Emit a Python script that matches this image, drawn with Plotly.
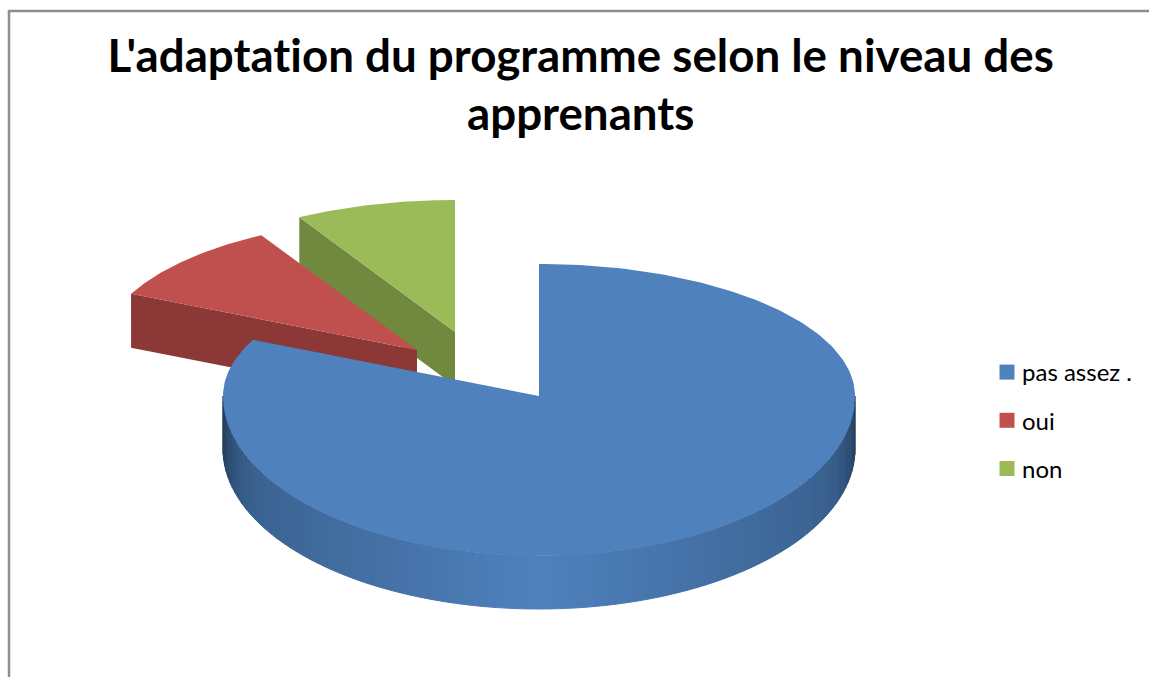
import math
import plotly.graph_objects as go

# Data
labels = ["pas assez .", "oui", "non"]
values = [82, 9.8, 8.2]
top_colors = ["#4F81BD", "#C0504D", "#9BBB59"]
wall_colors = ["#3A5F8B", "#8C3836", "#71893F"]
title_lines = ["L'adaptation du programme selon le niveau des", "apprenants"]

# Geometry of the projected pie (pixels of the plot area)
W, H = 1149, 677
RX, RY_BACK, RY_FRONT, DEPTH = 316, 132, 160, 53
APEX = [(539, 396), (417, 350), (455, 332)]


def project(apex, theta):
    s, c = math.sin(theta), math.cos(theta)
    ry = RY_BACK if c > 0 else RY_FRONT
    return apex[0] + RX * s, apex[1] - ry * c


def lerp_color(a, b, t):
    ca = [int(a[i:i + 2], 16) for i in (1, 3, 5)]
    cb = [int(b[i:i + 2], 16) for i in (1, 3, 5)]
    return "rgb({},{},{})".format(*[round(p + (q - p) * t) for p, q in zip(ca, cb)])


def poly(xs, ys, color, line=0):
    return go.Scatter(
        x=xs, y=ys, mode="lines", fill="toself", fillcolor=color,
        line=dict(color=color, width=line), hoverinfo="skip", showlegend=False,
    )


total = sum(values)
angles = [0]
for v in values:
    angles.append(angles[-1] + v / total * 2 * math.pi)

fig = go.Figure()


def arc(apex, a0, a1, n=80):
    return [project(apex, a0 + (a1 - a0) * i / n) for i in range(n + 1)]


# Back slices first: non, then oui
for idx in (2, 1):
    apex = APEX[idx]
    a0, a1 = angles[idx], angles[idx + 1]
    # the radial wall on the side facing the viewer
    ox, oy = project(apex, a0)
    fig.add_trace(poly([ox, apex[0], apex[0], ox, ox],
                       [oy, apex[1], apex[1] + DEPTH + 1, oy + DEPTH + 1, oy],
                       wall_colors[idx]))
    pts = arc(apex, a0, a1)
    fig.add_trace(poly([apex[0]] + [p[0] for p in pts] + [apex[0]],
                       [apex[1]] + [p[1] for p in pts] + [apex[1]],
                       top_colors[idx]))

# Large slice: shaded outer wall, then the top face
apex = APEX[0]
a0, a1 = angles[0], angles[1]
N = 90
wall_start, wall_end = math.pi / 2, 3 * math.pi / 2
for i in range(N):
    t0 = wall_start + (wall_end - wall_start) * i / N
    t1 = wall_start + (wall_end - wall_start) * (i + 1) / N
    p0, p1 = project(apex, t0), project(apex, t1)
    shade = abs(math.sin((t0 + t1) / 2))
    color = lerp_color("#4F81BD", "#24405F", 0.5 * shade + 0.5 * shade ** 25)
    fig.add_trace(poly([p0[0], p1[0], p1[0], p0[0], p0[0]],
                       [p0[1], p1[1], p1[1] + DEPTH, p0[1] + DEPTH, p0[1]],
                       color, 1))
pts = arc(apex, a0, a1, 240)
fig.add_trace(poly([apex[0]] + [p[0] for p in pts] + [apex[0]],
                   [apex[1]] + [p[1] for p in pts] + [apex[1]],
                   top_colors[0]))

# Legend entries
for name, color in zip(labels, top_colors):
    fig.add_trace(go.Scatter(
        x=[None], y=[None], mode="markers", name=name, legendgroup=name,
        marker=dict(symbol="square", size=15, color=color),
    ))

fig.update_layout(
    width=W, height=H, autosize=False,
    margin=dict(l=0, r=0, t=0, b=0),
    paper_bgcolor="white", plot_bgcolor="white",
    xaxis=dict(range=[0, W], visible=False, fixedrange=True),
    yaxis=dict(range=[H, 0], visible=False, fixedrange=True),
    font=dict(family="Lato", color="#000000"),
    legend=dict(
        x=987 / W, y=1 - 350 / H, xanchor="left", yanchor="top",
        font=dict(size=24, family="Lato", color="#000000"),
        tracegroupgap=14, itemwidth=30, bgcolor="rgba(0,0,0,0)",
    ),
    shapes=[
        dict(type="line", xref="x", yref="y", x0=8, y0=11, x1=W, y1=11,
             line=dict(color="#8E8E8E", width=2.5)),
        dict(type="line", xref="x", yref="y", x0=9, y0=10, x1=9, y1=H,
             line=dict(color="#8E8E8E", width=2.5)),
    ],
    annotations=[
        dict(text="<b>" + title_lines[0] + "</b>", x=580, y=54, xref="x", yref="y",
             showarrow=False, xanchor="center", yanchor="middle",
             font=dict(size=45.7, family="Lato", color="#000000")),
        dict(text="<b>" + title_lines[1] + "</b>", x=580, y=112, xref="x", yref="y",
             showarrow=False, xanchor="center", yanchor="middle",
             font=dict(size=45.7, family="Lato", color="#000000")),
    ],
)

post = """
document.body.style.margin='0';
var st=document.createElement('style');
st.textContent='svg text{font-variant-ligatures:none !important;}';
document.head.appendChild(st);
var gd=document.getElementById('{plot_id}');
function nudge(){document.querySelectorAll('.legendtext').forEach(function(t){t.setAttribute('x','35');});}
nudge();
gd.on('plotly_afterplot',nudge);
setTimeout(nudge,50);
"""
fig.write_html("out.html", post_script=post, config=dict(displayModeBar=False))
